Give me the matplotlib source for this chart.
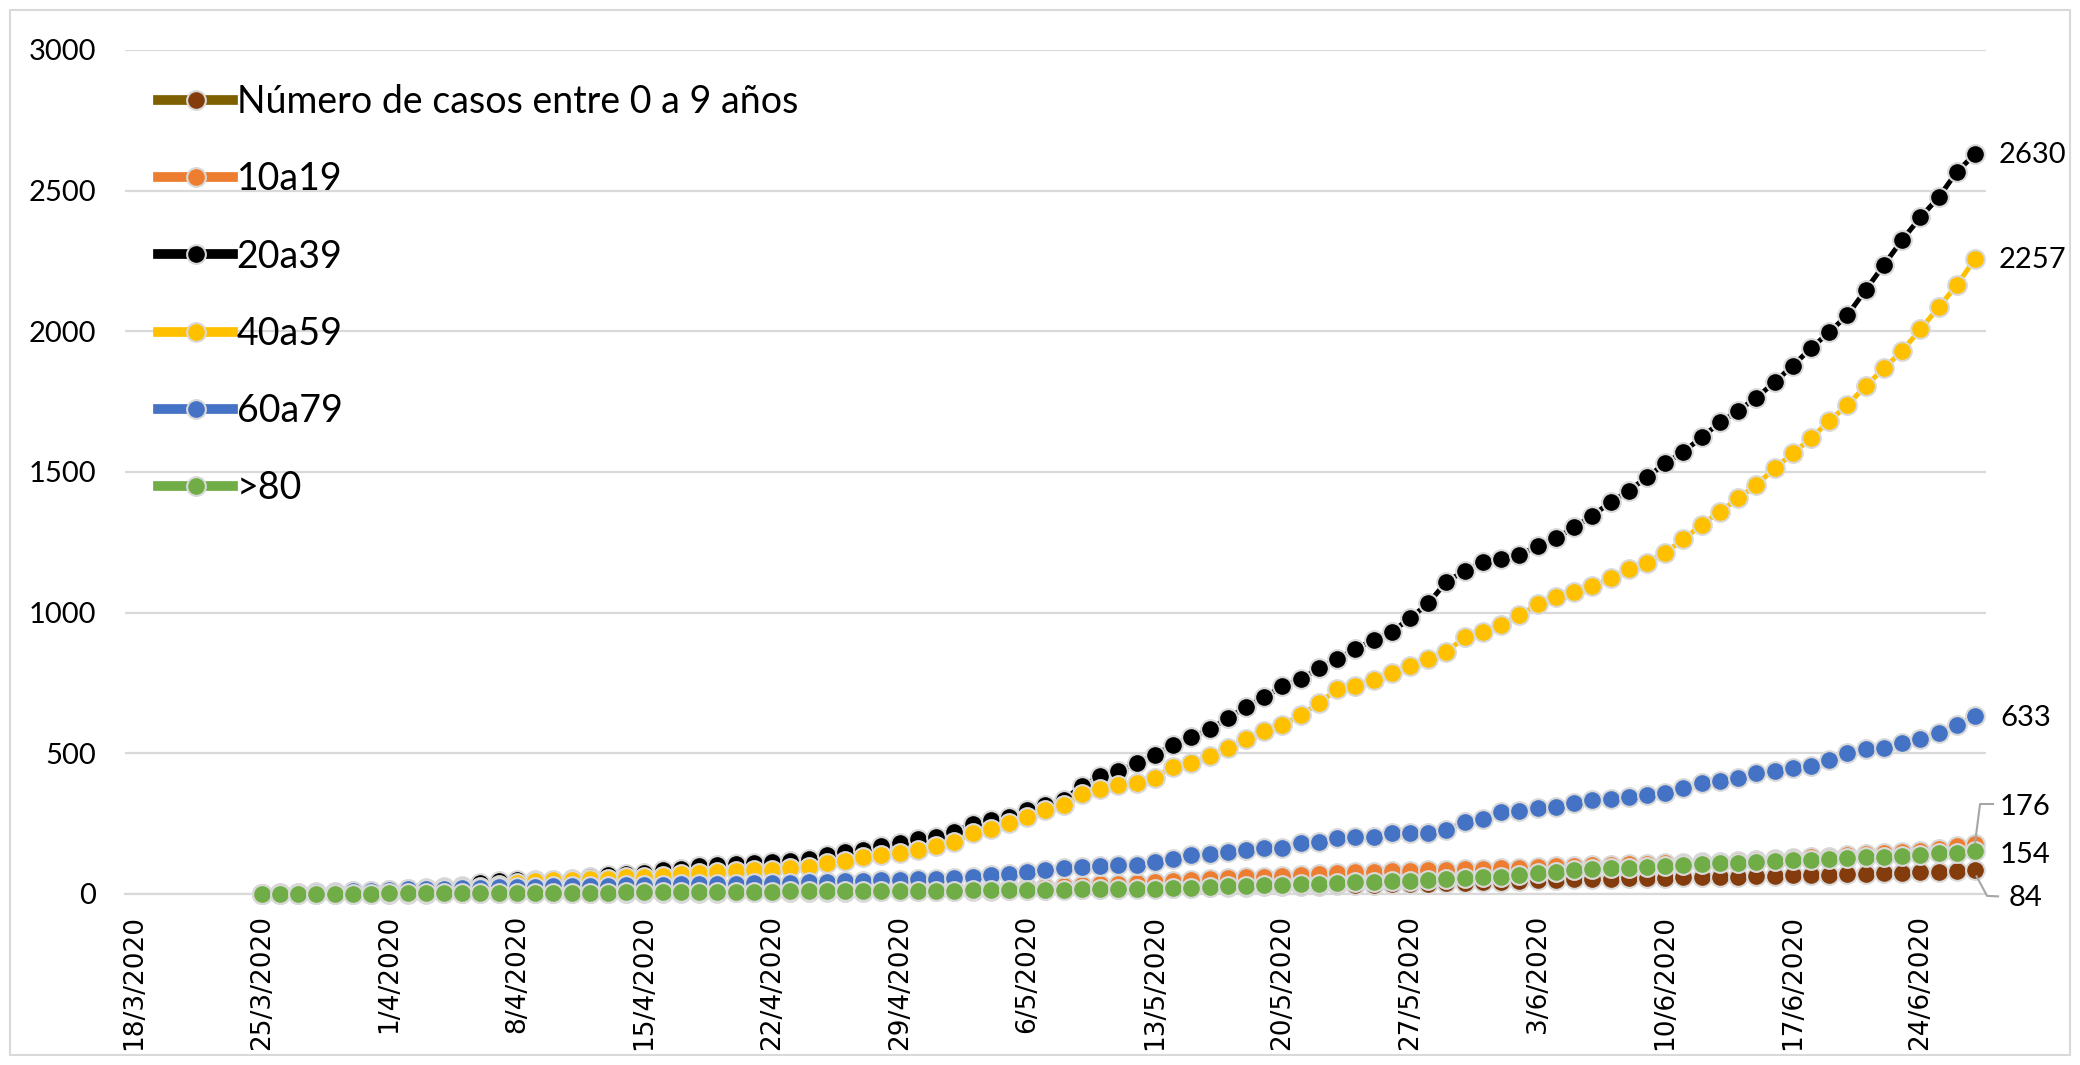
import pandas as pd
import matplotlib
matplotlib.use("Agg")
import matplotlib.pyplot as plt
import matplotlib.dates as mdates
from matplotlib.lines import Line2D
from matplotlib.patches import Rectangle
from matplotlib.transforms import IdentityTransform

# datos: casos acumulados por grupo de edad, 25/3/2020 a 27/6/2020
fechas = pd.date_range("2020-03-25", periods=95, freq="D")
ticks = pd.date_range("2020-03-18", "2020-06-24", freq="7D")
tick_labels = [f"{d.day}/{d.month}/{d.year}" for d in ticks]

nombres = ["Número de casos entre 0 a 9 años", "10a19", "20a39", "40a59", "60a79", ">80"]

edad_0_9 = [0, 0, 0, 0, 0, 1, 1, 1, 1, 1, 2, 2, 2, 2, 2, 3, 3, 3, 3, 4,
            4, 4, 4, 5, 5, 5, 6, 6, 6, 7, 7, 7, 8, 8, 9, 9, 10, 10, 11, 11,
            12, 13, 14, 15, 16, 17, 18, 19, 20, 21, 22, 23, 24, 25, 26, 27, 28, 29, 30, 31,
            32, 33, 34, 35, 36, 38, 40, 42, 44, 46, 48, 50, 52, 53, 55, 56, 57, 58, 59, 60,
            61, 62, 63, 64, 66, 67, 69, 70, 72, 73, 75, 77, 79, 81, 84]

edad_10_19 = [0, 0, 0, 0, 1, 1, 1, 1, 2, 2, 2, 2, 3, 3, 3, 4, 4, 4, 5, 5,
              5, 6, 6, 7, 7, 8, 8, 9, 9, 10, 10, 11, 12, 13, 14, 15, 16, 17, 18, 19,
              20, 22, 24, 26, 28, 31, 34, 37, 40, 43, 46, 50, 53, 56, 59, 62, 65, 68, 71, 74,
              77, 79, 81, 83, 85, 87, 89, 90, 92, 94, 96, 98, 100, 102, 104, 105, 107, 109, 111, 113,
              115, 117, 120, 123, 127, 130, 133, 137, 141, 145, 148, 152, 160, 170, 176]

edad_20_39 = [1, 2, 3, 5, 7, 9, 12, 15, 18, 22, 26, 30, 38, 45, 48, 49, 50, 52, 62, 67,
              70, 76, 84, 90, 98, 104, 107, 111, 115, 119, 125, 137, 150, 157, 172, 180, 195, 201, 220, 250,
              262, 272, 300, 316, 334, 385, 419, 438, 464, 495, 530, 557, 586, 624, 666, 699, 739, 764, 802, 835,
              871, 903, 932, 980, 1033, 1110, 1149, 1179, 1192, 1205, 1238, 1264, 1303, 1345, 1392, 1434, 1481, 1531, 1572, 1623,
              1676, 1718, 1764, 1819, 1878, 1940, 1997, 2058, 2147, 2236, 2325, 2405, 2476, 2567, 2630]

edad_40_59 = [0, 1, 1, 2, 3, 4, 6, 8, 10, 13, 16, 20, 25, 32, 38, 45, 48, 50, 52, 55,
              59, 61, 64, 70, 73, 79, 83, 85, 87, 91, 97, 109, 118, 132, 138, 145, 156, 171, 186, 216,
              230, 251, 275, 299, 316, 355, 372, 387, 393, 413, 453, 466, 492, 518, 551, 578, 601, 636, 678, 728,
              741, 761, 785, 812, 836, 861, 912, 932, 956, 990, 1030, 1057, 1074, 1095, 1122, 1154, 1178, 1213, 1261, 1312,
              1359, 1406, 1454, 1513, 1566, 1620, 1682, 1738, 1806, 1868, 1931, 2007, 2085, 2165, 2257]

edad_60_79 = [1, 2, 3, 6, 8, 10, 12, 14, 16, 18, 19, 20, 22, 24, 25, 26, 27, 28, 29, 30,
              31, 32, 33, 34, 35, 36, 37, 38, 39, 40, 41, 43, 45, 47, 49, 51, 53, 55, 58, 62,
              66, 71, 79, 85, 91, 95, 100, 103, 103, 115, 123, 139, 142, 150, 156, 162, 162, 182, 186, 198,
              204, 204, 216, 218, 218, 227, 257, 265, 290, 295, 305, 310, 325, 334, 337, 346, 352, 360, 376, 393,
              402, 413, 429, 438, 447, 456, 476, 500, 514, 518, 536, 550, 573, 601, 633]

edad_80 = [0, 0, 0, 1, 1, 1, 1, 2, 2, 2, 2, 3, 3, 3, 4, 4, 4, 5, 5, 5,
           6, 6, 6, 7, 7, 7, 8, 8, 8, 9, 9, 9, 10, 10, 10, 11, 11, 12, 12, 13,
           13, 14, 14, 15, 15, 16, 16, 17, 18, 19, 21, 23, 25, 27, 29, 31, 33, 35, 37, 39,
           41, 43, 45, 47, 49, 52, 56, 59, 62, 67, 76, 79, 85, 88, 91, 91, 95, 100, 103, 105,
           109, 111, 115, 118, 121, 121, 123, 127, 130, 133, 135, 139, 145, 147, 154]

valores = [edad_0_9, edad_10_19, edad_20_39, edad_40_59, edad_60_79, edad_80]
color_linea = ["#7F6000", "#ED7D31", "#000000", "#FFC000", "#4472C4", "#70AD47"]
color_marca = ["#843C0C", "#ED7D31", "#000000", "#FFC000", "#4472C4", "#70AD47"]

W, H = 2080, 1065


def draw_chart():
    plt.rcParams["font.family"] = ["Lato", "DejaVu Sans"]

    fig = plt.figure(figsize=(W / 100, H / 100), dpi=100)
    ax = fig.add_axes([125 / W, 1 - 894 / H, (1986 - 125) / W, (894 - 50) / H])

    for nombre, vals, lc, fc in zip(nombres, valores, color_linea, color_marca):
        ax.plot(fechas, vals, color=lc, lw=3.6, marker="o", ms=13.5, mfc=fc,
                mec="#D9D9D9", mew=1.5, label=nombre, clip_on=False, zorder=3)

    # ejes
    x0 = mdates.date2num(fechas[0])
    ax.set_xlim(x0 - 7.5, x0 + 94.6)
    ax.set_ylim(0, 3000)
    ax.set_yticks(range(0, 3001, 500))
    ax.grid(axis="y", color="#D9D9D9", lw=1.6)
    ax.set_axisbelow(True)
    for s in ["left", "right", "top"]:
        ax.spines[s].set_visible(False)
    ax.spines["bottom"].set_color("#D9D9D9")
    ax.spines["bottom"].set_linewidth(1.6)
    ax.tick_params(length=0)
    ax.tick_params(axis="y", labelsize=21, pad=21)
    ax.set_xticks(ticks)
    ax.set_xticklabels(tick_labels, rotation=90, fontsize=19, family="DejaVu Sans")
    ax.tick_params(axis="x", pad=15)

    leg = ax.legend(loc="upper left", bbox_to_anchor=(158 / W, 1 - 84 / H),
                    bbox_transform=fig.transFigure, frameon=False, fontsize=27,
                    handlelength=2.0, handletextpad=0.1, labelspacing=1.1,
                    borderpad=0, borderaxespad=0)
    for l in leg.get_lines():
        l.set_linewidth(7)

    # etiquetas del ultimo valor
    desplaz = [(34, -28), (25, 37), (24, -1), (24, -1), (25, -2), (25, -4)]
    xl = mdates.date2num(fechas[-1])
    for vals, (dx, dy) in zip(valores, desplaz):
        ax.annotate(str(vals[-1]), xy=(xl, vals[-1]), xytext=(dx, dy),
                    textcoords="offset pixels", fontsize=21, va="center", ha="left",
                    annotation_clip=False)

    # lineas guia para 176 y 84
    guias = [(edad_10_19, [(0, 2), (5, 40.5), (18, 40.5)]),
             (edad_0_9, [(1.5, -6), (12, -25.5), (23, -26)])]
    for vals, pts in guias:
        bx, by = ax.transData.transform((xl, vals[-1]))
        fig.add_artist(Line2D([bx + p[0] for p in pts], [by + p[1] for p in pts],
                              color="#A6A6A6", lw=1.5, transform=IdentityTransform()))

    # borde del grafico
    fig.add_artist(Rectangle((10 / W, 10 / H), (W - 20) / W, (H - 20) / H,
                             transform=fig.transFigure, fill=False, ec="#D9D9D9", lw=1.5))

    fig.savefig("out.png", dpi=100)


if __name__ == "__main__":
    draw_chart()
